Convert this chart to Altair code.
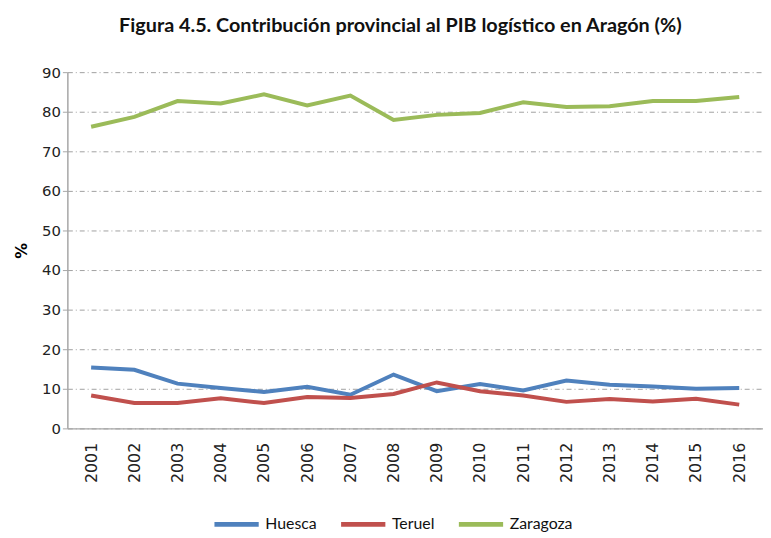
import altair as alt
import pandas as pd

years = [str(y) for y in range(2001, 2017)]
huesca = [15.4, 14.8, 11.3, 10.2, 9.2, 10.5, 8.5, 13.6, 9.4, 11.2, 9.6, 12.1, 11.0, 10.6, 10.0, 10.2]
teruel = [8.3, 6.4, 6.4, 7.6, 6.4, 7.9, 7.7, 8.7, 11.6, 9.4, 8.3, 6.7, 7.4, 6.8, 7.5, 6.0]
zaragoza = [76.2, 78.7, 82.7, 82.1, 84.4, 81.6, 84.1, 77.9, 79.2, 79.7, 82.4, 81.2, 81.4, 82.7, 82.7, 83.7]

series = ["Huesca", "Teruel", "Zaragoza"]
colors = ["#4F81BD", "#C0504D", "#9BBB59"]

rows = []
for name, vals in zip(series, [huesca, teruel, zaragoza]):
    for y, v in zip(years, vals):
        rows.append({"Año": y, "Provincia": name, "Valor": v})
df = pd.DataFrame(rows)

chart = alt.Chart(df).mark_line(strokeWidth=4).encode(
    x=alt.X("Año:O", sort=years, title=None,
            scale=alt.Scale(type="point", padding=0.55),
            axis=alt.Axis(labelAngle=-90, labelFontSize=16, labelColor="#222",
                          labelFont="DejaVu Sans", labelPadding=14,
                          domainColor="#a6a6a6", domainWidth=1.5, ticks=False, grid=False)),
    y=alt.Y("Valor:Q", title="%",
            scale=alt.Scale(domain=[0, 90], nice=False),
            axis=alt.Axis(values=list(range(0, 91, 10)), labelFontSize=15, labelColor="#222",
                          labelFont="DejaVu Sans", titleFontSize=16, titleFont="DejaVu Sans",
                          titleFontWeight="bold", titlePadding=12,
                          domainColor="#a6a6a6", domainWidth=1.5, tickColor="#a6a6a6",
                          tickSize=5, gridColor="#a0a0a0", gridDash=[5, 3, 1, 3],
                          gridWidth=1)),
    color=alt.Color("Provincia:N", scale=alt.Scale(domain=series, range=colors),
                    legend=alt.Legend(orient="none", legendX=146, legendY=432,
                                      direction="horizontal", title=None,
                                      symbolType="stroke", symbolStrokeWidth=5,
                                      symbolSize=2000, labelFontSize=16,
                                      labelFont="Lato", columnPadding=14,
                                      labelColor="#111")),
).properties(
    width=703, height=360,
    padding={"left": 5, "top": 5, "right": 0, "bottom": 5},
    title=alt.TitleParams("Figura 4.5. Contribución provincial al PIB logístico en Aragón (%)",
                          font="Lato", fontSize=20, fontWeight="bold",
                          color="#111", offset=30, anchor="middle", dx=-15),
).configure_view(stroke=None)

chart.save("out.html", embed_options={"renderer": "svg", "actions": False})
